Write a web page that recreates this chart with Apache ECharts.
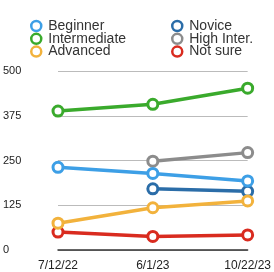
<!DOCTYPE html>
<html>
<head>
<meta charset="utf-8">
<script src="https://cdn.jsdelivr.net/npm/echarts@6/dist/echarts.min.js"></script>
<style>
html, body { margin: 0; padding: 0; background: #fff; }
#chart { width: 274px; height: 272px; }
</style>
</head>
<body>
<div id="chart"></div>
<script>
const dates = ['7/12/22', '6/1/23', '10/22/23']
const yTicks = [0, 125, 250, 375, 500]

const beginner = [231, 214, 193]
const novice = [null, 171, 164]
const intermediate = [388, 407, 452]
const highInter = [null, 248, 272]
const advanced = [75, 118, 137]
const notSure = [50, 38, 42]

const colors = {
  'Beginner': '#3d9fe6',
  'Novice': '#2b6da8',
  'Intermediate': '#3aaa2c',
  'High Inter.': '#8c8c8c',
  'Advanced': '#f2b23c',
  'Not sure': '#d92b1f',
}

// drawing order: red at the bottom
const seriesList = [
  ['Not sure', notSure],
  ['High Inter.', highInter],
  ['Novice', novice],
  ['Beginner', beginner],
  ['Advanced', advanced],
  ['Intermediate', intermediate],
]

const legendBase = {
  orient: 'vertical',
  top: 14,
  icon: 'circle',
  itemWidth: 10,
  itemHeight: 10,
  itemGap: -1.2,
  itemStyle: { color: '#fff', borderColor: 'inherit', borderWidth: 2.5 },
  textStyle: { fontFamily: 'Liberation Sans', fontSize: 14, color: '#333', lineHeight: 13, padding: [0, 0, 0, 2] },
  selectedMode: false,
}

const chart = echarts.init(document.getElementById('chart'))
chart.setOption({
  animation: false,
  legend: [
    Object.assign({}, legendBase, { left: 25, data: ['Beginner', 'Intermediate', 'Advanced'] }),
    Object.assign({}, legendBase, { left: 166, data: ['Novice', 'High Inter.', 'Not sure'] }),
  ],
  grid: { left: 57, right: 22, top: 71, bottom: 19, containLabel: false },
  xAxis: {
    type: 'category',
    data: dates,
    boundaryGap: false,
    axisLine: { lineStyle: { color: '#333', width: 1.5 } },
    axisTick: { show: false },
    axisLabel: { color: '#222', fontFamily: 'Liberation Sans', fontSize: 12, margin: 10 },
  },
  yAxis: {
    type: 'value',
    min: yTicks[0],
    max: yTicks[yTicks.length - 1],
    interval: 125,
    axisLine: { show: false },
    axisTick: { show: false },
    splitLine: { lineStyle: { color: '#bbb', width: 1 } },
    axisLabel: { color: '#222', fontFamily: 'Liberation Sans', fontSize: 11, align: 'left', margin: 55 },
  },
  series: seriesList.map(([name, data]) => ({
    name: name,
    type: 'line',
    data: data,
    color: colors[name],
    symbol: 'circle',
    symbolSize: 10,
    itemStyle: { color: '#fff', borderColor: colors[name], borderWidth: 3 },
    lineStyle: { color: colors[name], width: 3.5 },
  })),
})
</script>
</body>
</html>
